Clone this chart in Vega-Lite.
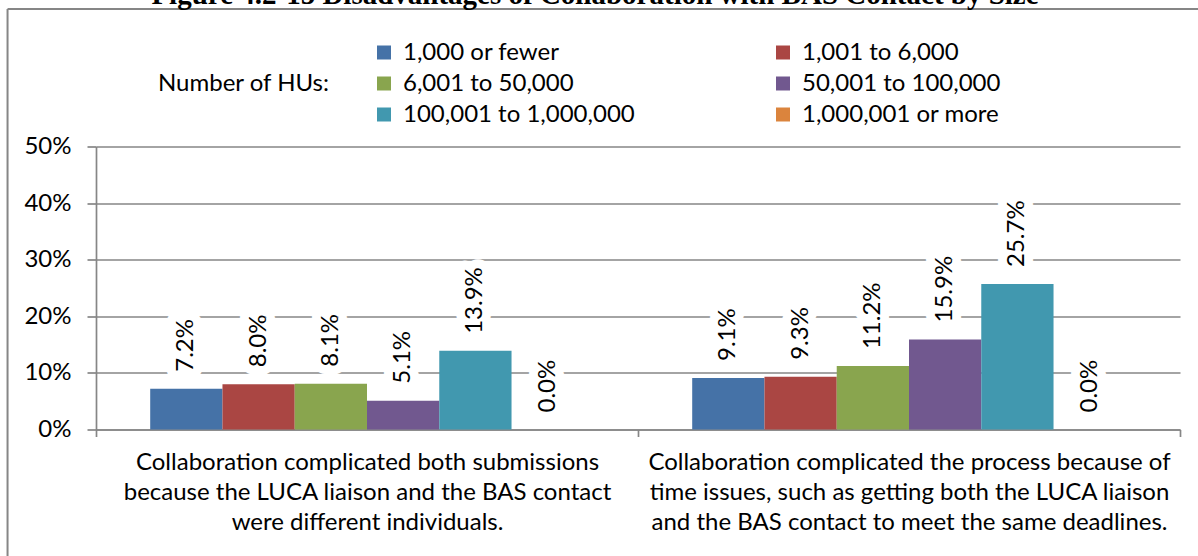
{
  "$schema": "https://vega.github.io/schema/vega-lite/v6.json",
  "width": 1084,
  "height": 283,
  "autosize": "none",
  "padding": {"left": 96, "top": 146.5, "right": 18, "bottom": 126.5},
  "background": "white",
  "title": {
    "text": "Figure 4.2-15 Disadvantages of Collaboration with BAS Contact by Size",
    "font": "Liberation Serif",
    "fontSize": 29,
    "fontWeight": "bold",
    "color": "black",
    "anchor": "middle",
    "baseline": "alphabetic",
    "offset": 0,
    "dy": 25,
    "dx": -43
  },
  "datasets": {
    "bars": [
      {"category": "Collaboration complicated both submissions\nbecause the LUCA liaison and the BAS contact\nwere different individuals.", "size": "1,000 or fewer", "value": 0.072},
      {"category": "Collaboration complicated both submissions\nbecause the LUCA liaison and the BAS contact\nwere different individuals.", "size": "1,001 to 6,000", "value": 0.080},
      {"category": "Collaboration complicated both submissions\nbecause the LUCA liaison and the BAS contact\nwere different individuals.", "size": "6,001 to 50,000", "value": 0.081},
      {"category": "Collaboration complicated both submissions\nbecause the LUCA liaison and the BAS contact\nwere different individuals.", "size": "50,001 to 100,000", "value": 0.051},
      {"category": "Collaboration complicated both submissions\nbecause the LUCA liaison and the BAS contact\nwere different individuals.", "size": "100,001 to 1,000,000", "value": 0.139},
      {"category": "Collaboration complicated both submissions\nbecause the LUCA liaison and the BAS contact\nwere different individuals.", "size": "1,000,001 or more", "value": 0.0},
      {"category": "Collaboration complicated the process because of\ntime issues, such as getting both the LUCA liaison\nand the BAS contact to meet the same deadlines.", "size": "1,000 or fewer", "value": 0.091},
      {"category": "Collaboration complicated the process because of\ntime issues, such as getting both the LUCA liaison\nand the BAS contact to meet the same deadlines.", "size": "1,001 to 6,000", "value": 0.093},
      {"category": "Collaboration complicated the process because of\ntime issues, such as getting both the LUCA liaison\nand the BAS contact to meet the same deadlines.", "size": "6,001 to 50,000", "value": 0.112},
      {"category": "Collaboration complicated the process because of\ntime issues, such as getting both the LUCA liaison\nand the BAS contact to meet the same deadlines.", "size": "50,001 to 100,000", "value": 0.159},
      {"category": "Collaboration complicated the process because of\ntime issues, such as getting both the LUCA liaison\nand the BAS contact to meet the same deadlines.", "size": "100,001 to 1,000,000", "value": 0.257},
      {"category": "Collaboration complicated the process because of\ntime issues, such as getting both the LUCA liaison\nand the BAS contact to meet the same deadlines.", "size": "1,000,001 or more", "value": 0.0}
    ],
    "frame": [
      {"edge": "top", "x": -0.0816, "x2": 1.1, "y": 0.743, "y2": 0.743},
      {"edge": "left", "x": -0.0816, "x2": -0.0816, "y": -0.6, "y2": 0.743}
    ]
  },
  "layer": [
    {
      "data": {"name": "bars"},
      "encoding": {
        "x": {
          "field": "category", "type": "nominal", "title": null,
          "scale": {"paddingInner": 0, "paddingOuter": 0},
          "axis": {
            "labelAngle": 0,
            "labelExpr": "split(datum.label, '\\n')",
            "labelLimit": 700,
            "labelLineHeight": 30,
            "labelPadding": 14,
            "tickBand": "extent",
            "tickSize": 7,
            "domainColor": "#868686",
            "tickColor": "#868686",
            "domainWidth": 1.7,
            "tickWidth": 1.7,
            "labelFont": "Lato",
            "labelFontSize": 24,
            "labelColor": "black",
            "grid": false
          }
        },
        "xOffset": {
          "field": "size", "type": "nominal",
          "sort": ["1,000 or fewer", "1,001 to 6,000", "6,001 to 50,000", "50,001 to 100,000", "100,001 to 1,000,000", "1,000,001 or more"],
          "scale": {"paddingInner": 0, "paddingOuter": 0.75}
        },
        "y": {
          "field": "value", "type": "quantitative", "title": null,
          "scale": {"domain": [0, 0.5], "nice": false},
          "axis": {
            "format": ".0%",
            "values": [0, 0.1, 0.2, 0.3, 0.4, 0.5],
            "tickSize": 9,
            "labelPadding": 16,
            "labelFont": "Lato",
            "labelFontSize": 24,
            "labelColor": "black",
            "domainColor": "#868686",
            "tickColor": "#868686",
            "gridColor": "#868686",
            "domainWidth": 1.7,
            "tickWidth": 1.7,
            "gridWidth": 1.7
          }
        }
      },
      "layer": [
        {
          "mark": {"type": "bar"},
          "encoding": {
            "color": {
              "field": "size", "type": "nominal",
              "sort": ["1,000 or fewer", "1,001 to 6,000", "6,001 to 50,000", "50,001 to 100,000", "100,001 to 1,000,000", "1,000,001 or more"],
              "scale": {
                "domain": ["1,000 or fewer", "1,001 to 6,000", "6,001 to 50,000", "50,001 to 100,000", "100,001 to 1,000,000", "1,000,001 or more"],
                "range": ["#4572A7", "#AA4643", "#89A54E", "#71588F", "#4198AF", "#DB843D"]
              },
              "legend": {
                "title": "Number of HUs:",
                "orient": "none",
                "legendX": 62,
                "legendY": -106,
                "direction": "horizontal",
                "columns": 2,
                "titleOrient": "left",
                "titleAnchor": "middle",
                "titleBaseline": "middle",
                "titleFont": "Lato",
                "titleFontSize": 24,
                "titleFontWeight": "normal",
                "titleColor": "black",
                "titlePadding": 42,
                "titleLimit": 400,
                "labelFont": "Lato",
                "labelFontSize": 24,
                "labelColor": "black",
                "labelLimit": 400,
                "labelOffset": 7,
                "symbolType": "square",
                "symbolSize": 196,
                "symbolStrokeWidth": 0,
                "symbolOpacity": 1,
                "rowPadding": 7,
                "columnPadding": 136
              }
            }
          }
        },
        {
          "mark": {"type": "text", "angle": 270, "align": "left", "baseline": "middle", "dx": 17, "font": "Lato", "fontSize": 24, "fill": "white", "stroke": "white", "strokeWidth": 18, "strokeJoin": "round"},
          "encoding": {
            "text": {"field": "value", "type": "quantitative", "format": ".1%"}
          }
        },
        {
          "mark": {"type": "text", "angle": 270, "align": "left", "baseline": "middle", "dx": 17, "font": "Lato", "fontSize": 24, "fill": "black"},
          "encoding": {
            "text": {"field": "value", "type": "quantitative", "format": ".1%"}
          }
        }
      ]
    },
    {
      "data": {"name": "frame"},
      "mark": {"type": "rule", "color": "#868686", "strokeWidth": 2, "clip": false},
      "encoding": {
        "x": {"field": "x", "type": "quantitative", "scale": {"domain": [0, 1], "nice": false, "zero": false}, "axis": null},
        "x2": {"field": "x2"},
        "y": {"field": "y", "type": "quantitative", "scale": {"domain": [0, 0.5], "nice": false}},
        "y2": {"field": "y2"}
      }
    }
  ],
  "resolve": {"scale": {"x": "independent"}},
  "config": {
    "view": {"stroke": null}
  }
}
